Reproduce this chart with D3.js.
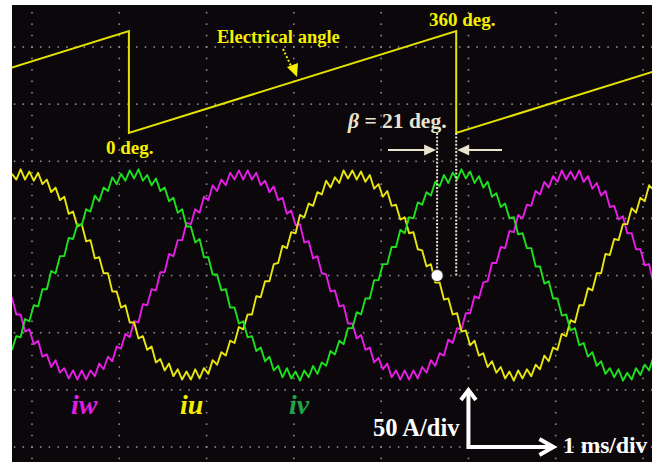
<!DOCTYPE html>
<html><head><meta charset="utf-8">
<script src="https://cdn.jsdelivr.net/npm/d3@7"></script>
<style>html,body{margin:0;padding:0;background:#fff;} svg{display:block}</style>
</head><body><svg id="chart" width="660" height="464"></svg>
<script>
// Recorder sample clock (ms)
const sampleStart = -0.23;
const sampleStep = 0.05;

// Phase currents, one value per sample (A)
const iu = [89,84,93,84,91,83,90,80,84,73, 77,66,69,54,56,43,45,30,31,15, 16,2,2,-14,-14,-28,-26,-41,-41,-55,
  -53,-65,-62,-76,-73,-83,-77,-88,-82,-91, -84,-91,-82,-90,-81,-86,-74,-78,-67,-70, -57,-59,-45,-47,-34,-34,-18,-19,-5,-5,
  10,11,26,24,38,37,53,51,63,61, 73,71,83,77,86,81,92,85,92,84, 91,82,88,76,80,69,74,61,62,49,
  51,37,38,23,22,8,10,-6,-6,-21, -20,-34,-33,-49,-48,-61,-57,-70,-68,-80, -75,-85,-80,-90,-84,-92,-83,-90,-82,-88,
  -78,-82,-70,-75,-63,-65,-51,-53,-39,-41, -26,-26,-11,-13,2,2,19,18,32,31, 45,45,59,55,68,65,79,75];
const iv = [-65,-53,-54,-38,-40,-26,-27,-12,-12,4, 2,17,17,33,32,45,44,58,56,70, 65,77,74,86,80,89,83,92,85,93,
  83,88,79,85,74,77,65,68,55,58, 43,43,29,32,16,16,1,1,-13,-12, -28,-28,-42,-40,-54,-53,-66,-63,-75,-71,
  -83,-79,-89,-81,-90,-84,-92,-83,-89,-79, -86,-76,-79,-66,-69,-57,-60,-46,-46,-32, -34,-20,-20,-4,-4,10,10,25,25,40,
  37,51,50,64,62,73,70,82,78,88, 81,90,84,93,85,91,81,87,77,82, 69,72,60,63,50,51,36,37,24,24,
  8,8,-7,-5,-20,-20,-35,-34,-48,-46, -61,-59,-71,-67,-79,-75,-86,-81,-89,-82, -92,-85,-91,-81,-87,-78,-83,-71];
const iw = [-19,-34,-34,-49,-47,-60,-57,-71,-69,-80, -74,-85,-81,-90,-83,-91,-83,-91,-83,-88, -77,-82,-71,-75,-62,-64,-51,-54,-40,-41,
  -25,-26,-12,-13,3,3,19,17,31,31, 46,45,58,55,69,66,79,74,84,79, 90,84,92,84,92,84,90,79,83,73,
  78,66,68,54,57,44,45,29,30,15, 17,2,1,-14,-13,-27,-26,-42,-42,-55, -52,-65,-63,-76,-72,-82,-77,-89,-83,-91,
  -83,-91,-83,-90,-80,-85,-74,-79,-68,-70, -56,-59,-46,-47,-33,-33,-18,-20,-6,-5, 11,11,25,24,39,38,53,50,62,61,
  74,71,82,77,87,82,92,84,91,84, 92,82,87,76,81,70,74,60,61,49, 52,37,37,23,23,9,10,-7];

// Electrical angle (sawtooth) breakpoints
const angleTime = [-0.23, 1.11, 1.11, 4.86, 4.86, 7.11]; // ms
const angleDeg = [231, 360, 0, 360, 0, 216];             // deg

// Screen divisions
const timeDivs = [0, 1, 2, 3, 4, 5, 6, 7];                   // ms, 1 ms/div
const currentDivs = [-150, -100, -50, 0, 50, 100, 150, 200]; // A, 50 A/div

// Phase lead of the angle reset
const beta = 21;         // deg
const elecPeriod = 3.75; // ms

const phases = [
  {name: "iw", values: iw, color: "#e61ee6", label: "#e01ee0"},
  {name: "iu", values: iu, color: "#e8e610", label: "#f2ee00"},
  {name: "iv", values: iv, color: "#1fe01f", label: "#1ea548"}
];

const svg = d3.select("#chart");
const frame = {x0: 12, y0: 5, x1: 652, y1: 462};

const x = d3.scaleLinear().domain([0, 7]).range([32, 643]);
const yI = d3.scaleLinear().domain([-150, 200]).range([447, 47]);
const yA = d3.scaleLinear().domain([0, 360]).range([133, 31]);

const serif = "'Liberation Serif','Times New Roman',serif";

svg.append("defs").append("clipPath").attr("id", "scr")
  .append("rect").attr("x", frame.x0).attr("y", frame.y0)
  .attr("width", frame.x1 - frame.x0).attr("height", frame.y1 - frame.y0);

svg.append("rect").attr("x", frame.x0).attr("y", frame.y0)
  .attr("width", frame.x1 - frame.x0).attr("height", frame.y1 - frame.y0)
  .attr("fill", "#0b070b");

const scr = svg.append("g").attr("clip-path", "url(#scr)");

// Dotted graticule
const grid = scr.append("g").attr("fill", "#8c8c8c");
const tMin = x.invert(frame.x0), tMax = x.invert(frame.x1);
const aMin = yI.invert(frame.y1), aMax = yI.invert(frame.y0);
const tDots = d3.range(Math.ceil(tMin * 10), Math.floor(tMax * 10) + 1).map(k => k / 10);
const aDots = d3.range(Math.ceil(aMin / 10), Math.floor(aMax / 10) + 1).map(k => k * 10);
currentDivs.forEach(a => {
  grid.selectAll(null).data(tDots).join("rect")
    .attr("x", t => x(t) - 0.8).attr("y", yI(a) - 0.8).attr("width", 1.6).attr("height", 1.6);
});
timeDivs.forEach(t => {
  grid.selectAll(null).data(aDots).join("rect")
    .attr("x", x(t) - 0.8).attr("y", a => yI(a) - 0.8).attr("width", 1.6).attr("height", 1.6);
});

// Electrical angle trace
const sawPts = angleTime.map((t, i) => [t, angleDeg[i]]);
scr.append("path").datum(sawPts)
  .attr("d", d3.line().x(d => x(d[0])).y(d => yA(d[1])))
  .attr("fill", "none").attr("stroke", "#e4e200").attr("stroke-width", 2);

// Phase current traces
const tOf = i => sampleStart + i * sampleStep;
phases.forEach(p => {
  scr.append("path").datum(p.values)
    .attr("d", d3.line().x((d, i) => x(tOf(i))).y(d => yI(d)))
    .attr("fill", "none").attr("stroke", p.color).attr("stroke-width", 1.9)
    .attr("stroke-linejoin", "round");
});

// Labels on the angle trace
const yellowTxt = "#f4f000";
svg.append("text").attr("x", 217).attr("y", 43).text("Electrical angle")
  .attr("font-family", serif).attr("font-weight", "bold").attr("font-size", 18.5).attr("fill", yellowTxt);
svg.append("text").attr("x", 429).attr("y", 26).text("360 deg.")
  .attr("font-family", serif).attr("font-weight", "bold").attr("font-size", 19).attr("fill", yellowTxt);
svg.append("text").attr("x", 106).attr("y", 154).text("0 deg.")
  .attr("font-family", serif).attr("font-weight", "bold").attr("font-size", 19).attr("fill", yellowTxt);

// Dotted pointer to the angle trace
svg.append("line").attr("x1", 283).attr("y1", 49).attr("x2", 292).attr("y2", 68)
  .attr("stroke", yellowTxt).attr("stroke-width", 2).attr("stroke-dasharray", "2,2");
svg.append("path").attr("d", "M287,67 L297,77 L298,63 Z").attr("fill", yellowTxt);

// Beta annotation
const tReset = angleTime[3];
const tDot = tReset - beta / 360 * elecPeriod;
const beige = "#e8e4cf";
const bx0 = x(tDot), bx1 = x(tReset);
[bx0, bx1].forEach(bx => {
  svg.append("line").attr("x1", bx).attr("x2", bx).attr("y1", yA(0)).attr("y2", yI(0))
    .attr("stroke", beige).attr("stroke-width", 2).attr("stroke-dasharray", "2,1.6");
});
const bt = svg.append("text").attr("x", 348).attr("y", 128)
  .attr("font-family", serif).attr("font-weight", "bold").attr("font-size", 21.5).attr("fill", beige);
bt.append("tspan").attr("font-style", "italic").text("β");
bt.append("tspan").text(" = 21 deg.");
const ay = 150;
svg.append("line").attr("x1", 388).attr("x2", bx0 - 8).attr("y1", ay).attr("y2", ay)
  .attr("stroke", beige).attr("stroke-width", 2);
svg.append("path").attr("d", `M${bx0 - 1},${ay} L${bx0 - 13},${ay - 5.5} L${bx0 - 13},${ay + 5.5} Z`).attr("fill", beige);
svg.append("line").attr("x1", 502).attr("x2", bx1 + 8).attr("y1", ay).attr("y2", ay)
  .attr("stroke", beige).attr("stroke-width", 2);
svg.append("path").attr("d", `M${bx1 + 1},${ay} L${bx1 + 13},${ay - 5.5} L${bx1 + 13},${ay + 5.5} Z`).attr("fill", beige);
svg.append("circle").attr("cx", bx0).attr("cy", yI(0)).attr("r", 6)
  .attr("fill", "#fff").attr("stroke", "#222").attr("stroke-width", 0.8);

// Phase names
const labelPos = {iw: 71, iu: 180, iv: 289};
phases.forEach(p => {
  svg.append("text").attr("x", labelPos[p.name]).attr("y", 414).text(p.name)
    .attr("font-family", serif).attr("font-weight", "bold").attr("font-style", "italic")
    .attr("font-size", 28).attr("fill", p.label);
});

// Scale indicator
const sx = x(5), sy = yI(-150);
svg.append("path").attr("d", `M${sx},${sy - 56} L${sx},${sy} L${sx + 84},${sy}`)
  .attr("fill", "none").attr("stroke", "#fff").attr("stroke-width", 4);
svg.append("path").attr("d", `M${sx - 7.5},${sy - 47} L${sx},${sy - 57} L${sx + 7.5},${sy - 47}`)
  .attr("fill", "none").attr("stroke", "#fff").attr("stroke-width", 4);
svg.append("path").attr("d", `M${sx + 71},${sy - 8} L${sx + 85},${sy} L${sx + 71},${sy + 8}`)
  .attr("fill", "none").attr("stroke", "#fff").attr("stroke-width", 4);
svg.append("text").attr("x", 373).attr("y", 436).text("50 A/div")
  .attr("font-family", serif).attr("font-weight", "bold").attr("font-size", 24.5).attr("fill", "#fff");
svg.append("text").attr("x", 563).attr("y", 453).text("1 ms/div")
  .attr("font-family", serif).attr("font-weight", "bold").attr("font-size", 23.5).attr("fill", "#fff");
</script></body></html>
